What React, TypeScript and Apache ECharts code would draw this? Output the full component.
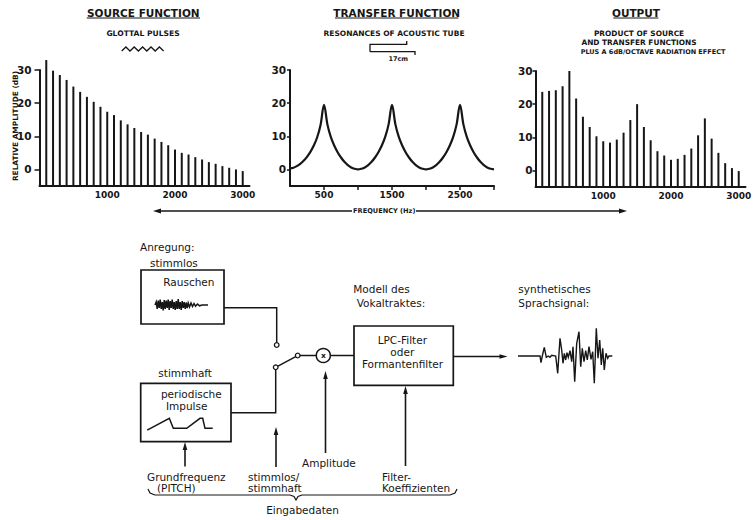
import React, { useEffect, useRef } from 'react';
import * as echarts from 'echarts';

// ---------- data ----------
const harmonicFreqs = [100, 200, 300, 400, 500, 600, 700, 800, 900, 1000, 1100, 1200, 1300, 1400, 1500,
  1600, 1700, 1800, 1900, 2000, 2100, 2200, 2300, 2400, 2500, 2600, 2700, 2800, 2900, 3000];
const sourceLevels = [33, 29.8, 28.5, 27, 25, 23.4, 21.9, 20.4, 18.9, 17.4, 16.4, 14.8, 13.6, 12.5, 11.3,
  10.5, 9.3, 8.3, 7.3, 6, 5, 4.5, 3.7, 3, 2.2, 1.7, 1, 0.5, 0, -0.5];
const outputLevels = [23.7, 24, 24.2, 25.4, 30, 21.7, 16.2, 13.1, 10.3, 8.8, 8.4, 9.3, 11.4, 15.2, 20,
  13.1, 9.1, 5.8, 4.5, 3.2, 3.5, 4.7, 6.6, 10.6, 15.7, 9.6, 5.3, 2.2, 0.7, -0.2];
const transferFreqs = [0, 50, 100, 150, 200, 250, 300, 350, 400, 450, 500, 550, 600, 650, 700, 750, 800, 850,
  900, 950, 1000, 1050, 1100, 1150, 1200, 1250, 1300, 1350, 1400, 1450, 1500, 1550, 1600, 1650, 1700, 1750,
  1800, 1850, 1900, 1950, 2000, 2050, 2100, 2150, 2200, 2250, 2300, 2350, 2400, 2450, 2500, 2550, 2600, 2650,
  2700, 2750, 2800, 2850, 2900, 2950, 3000];
const transferLevels = [0.3, 0.5, 1.0, 1.7, 2.6, 3.8, 5.3, 7.2, 9.7, 13.5, 19.5,
  13.6, 9.8, 7.2, 5.2, 3.6, 2.3, 1.3, 0.6, 0.2, 0.0,
  0.2, 0.6, 1.3, 2.3, 3.6, 5.2, 7.2, 9.8, 13.6, 19.5,
  13.6, 9.8, 7.2, 5.2, 3.6, 2.3, 1.3, 0.6, 0.2, 0.0,
  0.2, 0.6, 1.3, 2.3, 3.6, 5.2, 7.2, 9.8, 13.6, 19.5,
  13.6, 9.8, 7.2, 5.2, 3.6, 2.3, 1.3, 0.6, 0.2, 0.0];
const yTickValues = [0, 10, 20, 30];
const spectrumXLabels = [1000, 2000, 3000];
const transferXLabels = [500, 1500, 2500];
const transferXTicks = [500, 1000, 1500, 2000, 2500, 3000];

const Y_MIN = -5;
const Y_MAX = 30;
const ink = '#161616';

// ---------- helpers for the drawing ----------
const T = (x: number, y: number, text: string, size: number, o: any = {}) => ({
  type: 'text', x, y, silent: true, rotation: o.rotation || 0,
  style: {
    text, fontSize: size, fontFamily: o.family || 'DejaVu Sans', fontWeight: o.weight || 'normal',
    fill: ink, align: o.align || 'left', verticalAlign: 'middle',
  },
});
const PL = (points: number[][], w = 1.5) => ({
  type: 'polyline', silent: true, shape: { points }, style: { stroke: ink, lineWidth: w, fill: null },
});
const REL = (x0: number, y0: number, pts: number[][], w = 1.3) => PL(pts.map(([dx, dy]) => [x0 + dx, y0 + dy]), w);
const PG = (points: number[][]) => ({ type: 'polygon', silent: true, shape: { points }, style: { fill: ink } });
const arrowUp = (x: number, tail: number, tip: number) => [
  PL([[x, tail], [x, tip + 6]], 1.6), PG([[x, tip], [x - 2.3, tip + 8], [x + 2.3, tip + 8]]),
];
const RECT = (x: number, y: number, w: number, h: number) => ({
  type: 'rect', silent: true, shape: { x, y, width: w, height: h }, style: { stroke: ink, fill: null, lineWidth: 1.7 },
});
const CIRC = (cx: number, cy: number, r: number, w = 1.3) => ({
  type: 'circle', silent: true, shape: { cx, cy, r }, style: { stroke: ink, fill: '#fff', lineWidth: w },
});

const noisePts = [[0, 0], [1.2, -3], [2.2, 4], [3.2, -4.5], [4.2, 3], [5.2, -5.5], [6.2, 4], [7.2, -3], [8.2, 5.5],
  [9.2, -5], [10.2, 4], [11.2, -4.5], [12.2, 3], [13.2, -5.5], [14.2, 5], [15.2, -4], [16.2, 3], [17.2, -5.5],
  [18.2, 4], [19.2, -3], [20.2, 5], [21.2, -4], [22.2, 4], [23.2, -6], [24.2, 4], [25.2, -3], [26.2, 5], [27.2, -4],
  [28.2, 3], [29.2, -3], [30.2, 4], [31.2, -2.5], [32.2, 3], [33.2, -2], [34.5, 2], [36, -2], [37.5, 1.5],
  [39, -1.5], [40.5, 1.2], [42.5, -1], [44.5, 0.8], [47, 0], [53, 0]];
const speechPts = [[0, 0], [22, 0], [23, 6.7], [24.3, 0], [26.3, -8.7], [28.3, 1.3], [30.3, 0], [32, 1.3], [33.7, -0.7],
  [37.7, 0], [39.7, 17.3], [42, -17.7], [43.7, -6], [45, 7.3], [46.3, -2.7], [47.7, 4], [49, -3.3], [50.3, 1.3],
  [52, -5.3], [53.7, 5.7], [55, -9.3], [56.7, 25.7], [58.7, -12.7], [61, -24.3], [62.7, 10.7], [64.3, -7.7], [66, 5.7],
  [67.7, -5.3], [69.3, 4], [71, -9.3], [73, 3.3], [74.7, -4.3], [76.3, 27.3], [78.3, -27.7], [80, 2.3], [81.7, -16],
  [83.3, 9], [84.7, -7.7], [86.3, 14], [88, -2.7], [89.7, 2.3], [91, 0], [94.3, 0]];
const pulsePts = [[147.3, 430], [150, 428.6], [169.3, 418.3], [173.3, 428.3], [186.7, 428.3], [200, 418.3],
  [202.7, 418.3], [205, 428.3], [212.7, 428.3]];
const zigzagPts = [[121.7, 51], [125.9, 47], [130, 51], [134.2, 47], [138.4, 51], [142.6, 47], [146.8, 51],
  [151, 47], [155.2, 51], [159.4, 47], [163.6, 51]];

function buildGraphics() {
  const C = { weight: 'bold', align: 'center' };
  const g: any[] = [];
  // chart titles
  g.push(T(143.3, 13, 'SOURCE FUNCTION', 10.5, C), PL([[86.7, 18], [200, 18]], 1.2));
  g.push(T(143, 33, 'GLOTTAL PULSES', 7.6, C), PL(zigzagPts, 1.3));
  g.push(T(396.7, 13, 'TRANSFER FUNCTION', 10.5, C), PL([[335, 18], [458.3, 18]], 1.2));
  g.push(T(394, 33, 'RESONANCES OF ACOUSTIC TUBE', 7.5, C));
  g.push(PL([[370, 51.7], [370, 44.3], [406.7, 44.3], [406.7, 41]], 1.3));
  g.push(PL([[370, 51.7], [415, 51.7], [415, 55]], 1.3));
  g.push(T(398.3, 58.5, '17cm', 6.5, C));
  g.push(T(636, 13, 'OUTPUT', 10.5, C), PL([[613.3, 18], [658.3, 18]], 1.2));
  g.push(T(639, 33, 'PRODUCT OF SOURCE', 7.4, C));
  g.push(T(639, 42.5, 'AND TRANSFER FUNCTIONS', 7.4, C));
  g.push(T(653, 52, 'PLUS A 6dB/OCTAVE RADIATION EFFECT', 6.5, C));
  g.push(T(15, 126, 'RELATIVE AMPLITUDE (dB)', 7.4, { ...C, rotation: Math.PI / 2 }));
  // frequency arrow
  g.push(T(384.3, 211, 'FREQUENCY (Hz)', 6.6, C));
  g.push(PL([[160, 211], [352, 211]], 1.3), PG([[153, 211], [161, 208.5], [161, 213.5]]));
  g.push(PL([[416, 211], [620, 211]], 1.3), PG([[627, 211], [619, 208.5], [619, 213.5]]));

  // block diagram
  g.push(T(140, 247, 'Anregung:', 10.5));
  g.push(T(150, 263, 'stimmlos', 10.5));
  g.push(RECT(141, 270, 83, 54));
  g.push(T(163.3, 282, 'Rauschen', 10.5));
  g.push(REL(155, 305, noisePts, 1.5));
  g.push(T(158.3, 373.3, 'stimmhaft', 10.5));
  g.push(RECT(140.7, 383.3, 90.3, 58.4));
  g.push(T(191.3, 394.3, 'periodische', 10.5, { align: 'center' }));
  g.push(T(186.7, 406, 'Impulse', 10.5, { align: 'center' }));
  g.push(PL(pulsePts, 1.5));
  // connections and switch
  g.push(PL([[224, 307.7], [276.7, 307.7], [276.7, 342.7]], 1.5));
  g.push(PL([[231, 412.7], [275.7, 412.7], [275.7, 369.7]], 1.5));
  g.push(PL([[277.5, 366.3], [295.7, 356.6]], 1.5));
  g.push(PL([[300, 355.5], [316.3, 355.5]], 1.5));
  g.push(PL([[330.3, 355.5], [354, 355.5]], 1.5));
  g.push(CIRC(276.7, 345, 2.3), CIRC(275.7, 367.3, 2.3), CIRC(297.7, 355.5, 2.3));
  g.push(CIRC(323.3, 355.5, 7, 1.5), T(323.3, 355.5, 'x', 7.5, C));
  g.push(T(353.3, 289.3, 'Modell des', 10.5));
  g.push(T(356.7, 303.3, 'Vokaltraktes:', 10.5));
  g.push(RECT(354, 326, 99.3, 59.3));
  g.push(T(402.3, 340, 'LPC-Filter', 10.5, { align: 'center' }));
  g.push(T(402.3, 352, 'oder', 10.5, { align: 'center' }));
  g.push(T(402.5, 364, 'Formantenfilter', 10.5, { align: 'center' }));
  g.push(PL([[453.3, 356.5], [501, 356.5]], 1.5), PG([[507.5, 356.5], [499.5, 354.2], [499.5, 358.8]]));
  g.push(T(518.3, 289.3, 'synthetisches', 10.5));
  g.push(T(518.3, 303.3, 'Sprachsignal:', 10.5));
  g.push(REL(518, 356, speechPts, 1.4));
  // input arrows
  g.push(...arrowUp(185, 466.5, 442));
  g.push(...arrowUp(276, 467, 427));
  g.push(...arrowUp(325.5, 453, 371));
  g.push(...arrowUp(405.5, 466, 386));
  g.push(T(302, 463.3, 'Amplitude', 10.5));
  g.push(T(147, 477, 'Grundfrequenz', 10.5));
  g.push(T(157, 487.5, '(PITCH)', 10.5));
  g.push(T(248, 477, 'stimmlos/', 10.5));
  g.push(T(248, 487.5, 'stimmhaft', 10.5));
  g.push(T(382, 477, 'Filter-', 10.5));
  g.push(T(382, 487.5, 'Koeffizienten', 10.5));
  g.push(PL([[148, 489], [150, 493], [155, 495], [290, 495], [294, 496.5], [296, 500], [298, 496.5],
    [302, 495], [450, 495], [455, 493], [457, 489]], 1.2));
  g.push(T(302.5, 510, 'Eingabedaten', 10.5, { align: 'center' }));
  return g;
}

const stemSeries = (idx: number, freqs: number[], levels: number[]) => ({
  type: 'custom',
  xAxisIndex: idx,
  yAxisIndex: idx,
  silent: true,
  clip: false,
  data: freqs.map((f, i) => [f, levels[i]]),
  renderItem: (_p: any, api: any) => {
    const base = api.coord([api.value(0), Y_MIN]);
    const top = api.coord([api.value(0), api.value(1)]);
    return {
      type: 'line',
      shape: { x1: base[0], y1: base[1], x2: top[0], y2: top[1] },
      style: { stroke: ink, lineWidth: 2 },
    };
  },
});

const labelStyle = (size: number, margin: number) => ({
  color: ink, fontSize: size, fontWeight: 'bold', fontFamily: 'DejaVu Sans', margin,
  formatter: (v: number) => String(v),
});

const xAxisFor = (idx: number, max: number, interval: number, labels: number[], ticks: number[] | null) => ({
  gridIndex: idx,
  type: 'value',
  min: 0,
  max,
  interval,
  axisLine: { onZero: false, lineStyle: { color: ink, width: 2 } },
  axisTick: ticks
    ? { show: true, customValues: ticks, length: 4, lineStyle: { color: ink, width: 1.5 } }
    : { show: false },
  axisLabel: { ...labelStyle(9, 4), customValues: labels },
  splitLine: { show: false },
});

const yAxisFor = (idx: number, margin: number, tickLen: number) => ({
  gridIndex: idx,
  type: 'value',
  min: Y_MIN,
  max: Y_MAX,
  axisLine: { show: true, onZero: false, lineStyle: { color: ink, width: 2 } },
  axisTick: { show: true, customValues: yTickValues, length: tickLen, lineStyle: { color: ink, width: 1.5 } },
  axisLabel: { ...labelStyle(10.5, margin), customValues: yTickValues },
  splitLine: { show: false },
});

export default function App() {
  const ref = useRef<HTMLDivElement>(null);
  useEffect(() => {
    if (!ref.current) return;
    const chart = echarts.init(ref.current, null, { renderer: 'svg' });
    chart.setOption({
      animation: false,
      backgroundColor: '#ffffff',
      grid: [
        { left: 39.5, top: 70, width: 210, height: 116, containLabel: false, outerBoundsMode: 'none' },
        { left: 290, top: 70, width: 204, height: 116, containLabel: false, outerBoundsMode: 'none' },
        { left: 535.5, top: 71, width: 210, height: 116, containLabel: false, outerBoundsMode: 'none' },
      ],
      xAxis: [
        xAxisFor(0, 3100, 1000, spectrumXLabels, null),
        xAxisFor(1, 3000, 500, transferXLabels, transferXTicks),
        xAxisFor(2, 3100, 1000, spectrumXLabels, null),
      ],
      yAxis: [yAxisFor(0, 8, 5), yAxisFor(1, 4, 3), yAxisFor(2, 3, 3)],
      series: [
        stemSeries(0, harmonicFreqs, sourceLevels),
        {
          type: 'line',
          xAxisIndex: 1,
          yAxisIndex: 1,
          silent: true,
          smooth: 0.35,
          symbol: 'none',
          showSymbol: false,
          lineStyle: { color: ink, width: 2.2 },
          data: transferFreqs.map((f, i) => [f, transferLevels[i]]),
        },
        stemSeries(2, harmonicFreqs, outputLevels),
      ],
      graphic: buildGraphics(),
    });
    return () => chart.dispose();
  }, []);
  return (
    <div
      ref={ref}
      style={{ position: 'absolute', left: 0, top: 0, width: 753, height: 520, background: '#fff' }}
    />
  );
}
